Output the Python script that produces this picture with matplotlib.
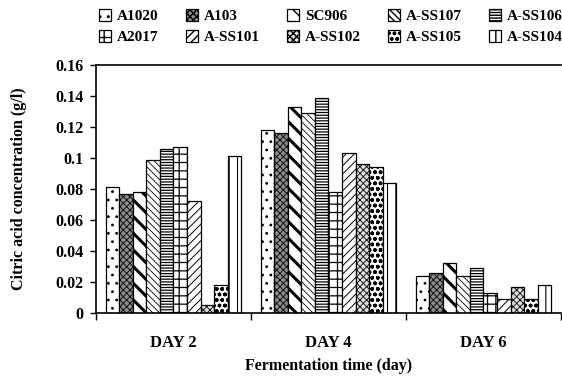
import matplotlib.pyplot as plt
import numpy as np

days = ['DAY 2', 'DAY 4', 'DAY 6']
strains = ['A1020', 'A103', 'SC906', 'A-SS107', 'A-SS106',
           'A2017', 'A-SS101', 'A-SS102', 'A-SS105', 'A-SS104']

a1020 = [0.081, 0.118, 0.024]
a103 = [0.077, 0.116, 0.026]
sc906 = [0.078, 0.133, 0.032]
ass107 = [0.099, 0.129, 0.024]
ass106 = [0.106, 0.139, 0.029]
a2017 = [0.107, 0.078, 0.013]
ass101 = [0.072, 0.103, 0.009]
ass102 = [0.005, 0.096, 0.017]
ass105 = [0.018, 0.094, 0.009]
ass104 = [0.101, 0.084, 0.018]

series = [a1020, a103, sc906, ass107, ass106, a2017, ass101, ass102, ass105, ass104]

# (facecolor, hatch, hatch linewidth)
styles = [
    ('white', '..', 0.8),
    ('#8c8c8c', 'xxxxx', 0.6),
    ('white', '\\\\', 2.2),
    ('white', '\\\\\\\\\\', 0.6),
    ('white', '------', 0.9),
    ('white', '++', 0.9),
    ('white', '////', 0.7),
    ('#e0e0e0', 'xxxxx', 0.6),
    ('white', 'ooo', 1.1),
    ('white', '||', 0.8),
]

plt.rcParams['font.family'] = 'Liberation Serif'
plt.rcParams['font.weight'] = 'bold'
plt.rcParams['axes.labelweight'] = 'bold'

fig = plt.figure(figsize=(5.62, 3.81), dpi=100)
ax = fig.add_axes([96 / 562, (381 - 313) / 381, 466 / 562 - 0.002, 248 / 381])

x = np.arange(len(days))
width = 0.0875
handles = []
for i, (vals, (fc, h, hlw)) in enumerate(zip(series, styles)):
    pos = x - 4.5 * width + i * width
    b = ax.bar(pos, vals, width, color=fc, edgecolor='black', linewidth=0.9,
               hatch=h, label=strains[i])
    for p in b:
        try:
            p.set_hatch_linewidth(hlw)
        except AttributeError:
            pass
    handles.append(b)

ax.set_xlim(-0.5, 2.5)
ax.set_ylim(0, 0.16)
ax.set_yticks(np.arange(0, 0.161, 0.02))
ax.set_yticklabels(['0', '0.02', '0.04', '0.06', '0.08', '0.1', '0.12', '0.14', '0.16'], fontsize=11.5)
ax.set_xticks(x)
ax.set_xticklabels(days, fontsize=12)
ax.tick_params(axis='x', length=0, pad=16)
ax.set_xticks([-0.5, 0.5, 1.5, 2.5], minor=True)
ax.tick_params(axis='x', which='minor', length=5, width=1)
ax.tick_params(axis='y', length=4, width=1, pad=5)
ax.spines['right'].set_visible(False)
for s in ['left', 'bottom', 'top']:
    ax.spines[s].set_linewidth(1.2)

ax.set_ylabel('Citric acid concentration (g/l)', fontsize=11.5, labelpad=20)
ax.set_xlabel('Fermentation time (day)', fontsize=11.5, labelpad=5)

order = [0, 5, 1, 6, 2, 7, 3, 8, 4, 9]
leg = fig.legend([handles[k] for k in order], [strains[k] for k in order],
                 ncol=5, loc='upper left', bbox_to_anchor=(0.165, 0.992),
                 frameon=False, fontsize=11, handlelength=0.8, handleheight=0.8,
                 handletextpad=0.4, columnspacing=1.75, labelspacing=0.45,
                 borderaxespad=0)

fig.savefig('out.png', dpi=100)
